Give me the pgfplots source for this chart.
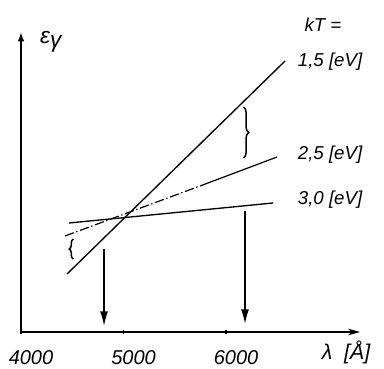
\documentclass[border=0pt]{standalone}
\usepackage{fontspec}
\setmainfont{Liberation Sans}
\usepackage{pgfplots}
\pgfplotsset{compat=1.18}
\usetikzlibrary{arrows.meta,decorations.pathreplacing}
\begin{document}
\begin{tikzpicture}
\path[use as bounding box] (-15.75pt,-27pt) rectangle (272.25pt,249pt);
\begin{axis}[
  scale only axis, width=254.25pt, height=225pt,
  xmin=4000, xmax=7307, ymin=0, ymax=300,
  axis lines=left,
  x axis line style={line width=1.1pt, -{Stealth[length=9pt,width=5pt]}},
  y axis line style={line width=1.6pt, -{Latex[length=7pt,width=5pt]}},
  xtick={4000,5000,6000}, ytick=\empty,
  xticklabels={4000,5000,6000},
  xticklabel style={xshift=7.5pt, yshift=-9pt, font=\fontsize{15}{17}\selectfont\itshape},
  /pgf/number format/assume math mode=true,
  major tick length=3pt, tick align=center, tick style={line width=1pt, black},
  clip=false,
]
% kT = 1.5 eV
\addplot[black, line width=1pt] coordinates {(4449,58) (6576,271)};
% kT = 2.5 eV: dash-dot part and solid part
\addplot[black, line width=0.9pt, dash pattern=on 7pt off 2pt on 1pt off 2pt] coordinates {(4429,96) (5746,146)};
\addplot[black, line width=0.9pt] coordinates {(5746,146) (6498,175)};
% kT = 3.0 eV
\addplot[black, line width=1pt] coordinates {(4468,109) (6459,129)};
% arrows
\draw[line width=1.1pt, -{Latex[length=11pt,width=6pt]}] (axis cs:4810,83) -- (axis cs:4810,6);
\draw[line width=1.1pt, -{Latex[length=11pt,width=6pt]}] (axis cs:6185,121) -- (axis cs:6185,8);
% braces
\draw[line width=1.1pt, decorate, decoration={brace, amplitude=4pt}] (axis cs:6170,225) -- (axis cs:6170,174);
\draw[line width=1.1pt, decorate, decoration={brace, amplitude=3pt}] (axis cs:4510,73) -- (axis cs:4510,93);
% labels
\node[font=\fontsize{14}{16}\selectfont\itshape] at (axis cs:6946,307) {kT =};
\node[font=\fontsize{14}{16}\selectfont\itshape] at (axis cs:7015,270) {1,5 [eV]};
\node[font=\fontsize{14}{16}\selectfont\itshape] at (axis cs:7015,177) {2,5 [eV]};
\node[font=\fontsize{14}{16}\selectfont\itshape] at (axis cs:7015,132) {3,0 [eV]};
\node[font=\fontsize{17}{19}\selectfont\itshape] at (axis cs:4290,290) {ε\raisebox{-3pt}{γ}};
\node[font=\fontsize{16}{18}\selectfont\itshape] at (axis cs:7171,-20) {λ\ \ [Å]};
\end{axis}
\end{tikzpicture}
\end{document}
